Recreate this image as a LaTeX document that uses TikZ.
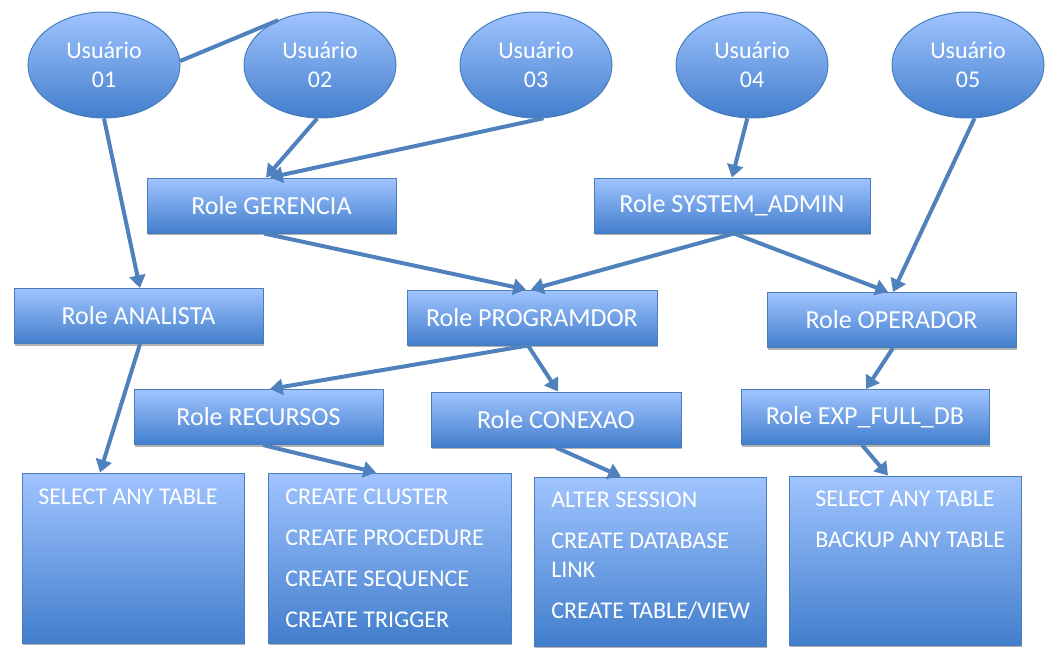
\documentclass[tikz,border=0pt]{standalone}
\usepackage{fontspec}
\setmainfont{Carlito}
\usetikzlibrary{arrows.meta,shapes.geometric,shadows}
\definecolor{lt}{RGB}{160,196,255}
\definecolor{dk}{RGB}{66,126,204}
\definecolor{bd}{RGB}{74,126,187}
\definecolor{ln}{RGB}{79,129,189}
\begin{document}
\begin{tikzpicture}[x=0.75pt,y=-0.75pt,
  fillgrad/.style={top color=lt,bottom color=dk,draw=bd,line width=0.75pt},
  txt/.style={text=white,font=\fontsize{18}{21.75}\selectfont},
  user/.style={fillgrad,txt,ellipse,minimum width=114pt,minimum height=79.5pt,inner sep=0pt,align=center},
  boxshadow/.style={drop shadow={shadow xshift=0.8pt,shadow yshift=-1.5pt,opacity=0.3,fill=black}},
  rolebox/.style={fillgrad,boxshadow,rectangle,minimum height=41.25pt,inner sep=0pt,
    text=white,font=\fontsize{19.5}{23}\selectfont},
  privbox/.style={fillgrad,boxshadow,rectangle,inner sep=0pt},
  privtext/.style={txt,anchor=north west,inner sep=0pt,align=left},
  conn/.style={draw=ln,line width=3pt,-{Triangle[length=9.5pt,width=12pt]}},
  plain/.style={draw=ln,line width=3pt}
]
\useasboundingbox (0,0) rectangle (1061,664);

% users
\node[user] (u1) at (104,65) {Usuário\\01};
\node[user] (u2) at (320,65) {Usuário\\02};
\node[user] (u3) at (536,65) {Usuário\\03};
\node[user] (u4) at (752,65) {Usuário\\04};
\node[user] (u5) at (968,65) {Usuário\\05};

% roles
\node[rolebox,minimum width=186.75pt] (ger) at (271.5,205.5) {Role GERENCIA};
\node[rolebox,minimum width=207pt] (sys) at (732,205.5) {Role SYSTEM\_ADMIN};
\node[rolebox,minimum width=186.75pt] (ana) at (138.5,316) {Role ANALISTA};
\node[rolebox,minimum width=187.5pt] (prg) at (532,317.5) {Role PROGRAMDOR};
\node[rolebox,minimum width=186.75pt] (ope) at (891.5,320) {Role OPERADOR};
\node[rolebox,minimum width=186.75pt] (rec) at (258.5,417) {Role RECURSOS};
\node[rolebox,minimum width=187.5pt] (con) at (556,419.5) {Role CONEXAO};
\node[rolebox,minimum width=186pt] (exp) at (865,417) {Role EXP\_FULL\_DB};

% privilege boxes
\node[privbox,minimum width=166.5pt,minimum height=127.5pt] (b1) at (133,558) {};
\node[privbox,minimum width=182.25pt,minimum height=127.5pt] (b2) at (389.5,558) {};
\node[privbox,minimum width=174pt,minimum height=126.75pt] (b3) at (650,561.5) {};
\node[privbox,minimum width=174pt,minimum height=126.75pt] (b4) at (905,560.5) {};

\node[privtext] (t1) at (38,489) {SELECT ANY TABLE};
\node[privtext] (t2) at (285,489) {CREATE CLUSTER\\[9pt]CREATE PROCEDURE\\[9pt]CREATE SEQUENCE\\[9pt]CREATE TRIGGER};
\node[privtext] (t3) at (551,492) {ALTER SESSION\\[9pt]CREATE DATABASE\\LINK\\[9pt]CREATE TABLE/VIEW};
\node[privtext] (t4) at (815,491) {SELECT ANY TABLE\\[9pt]BACKUP ANY TABLE};

% connectors
\draw[plain] (u1.3) -- (u2.133);
\draw[conn] (u1.south) -- (ana.north -| 140,0);
\draw[conn] (u2.-93) -- (ger.north -| 266,0);
\draw[conn] (u3.-82) -- (ger.north -| 270,0);
\draw[conn] (u4.-95) -- (sys.north -| 732,0);
\draw[conn] (u5.-83) -- (ope.north -| 893,0);
\draw[conn] (ger.south -| 264,0) -- (prg.north -| 526,0);
\draw[conn] (sys.south -| 734,0) -- (prg.north -| 531,0);
\draw[conn] (sys.south -| 734,0) -- (ope.north -| 888,0);
\draw[conn] (ana.south -| 140,0) -- (b1.north -| 100,0);
\draw[conn] (prg.south -| 528,0) -- (rec.north -| 270,0);
\draw[conn] (prg.south -| 528,0) -- (con.north -| 558,0);
\draw[conn] (ope.south -| 893,0) -- (exp.north -| 866,0);
\draw[conn] (rec.south -| 263,0) -- (b2.north -| 376,0);
\draw[conn] (con.south -| 556,0) -- (b3.north -| 621,0);
\draw[conn] (exp.south -| 862,0) -- (b4.north -| 888,0);
\end{tikzpicture}
\end{document}
